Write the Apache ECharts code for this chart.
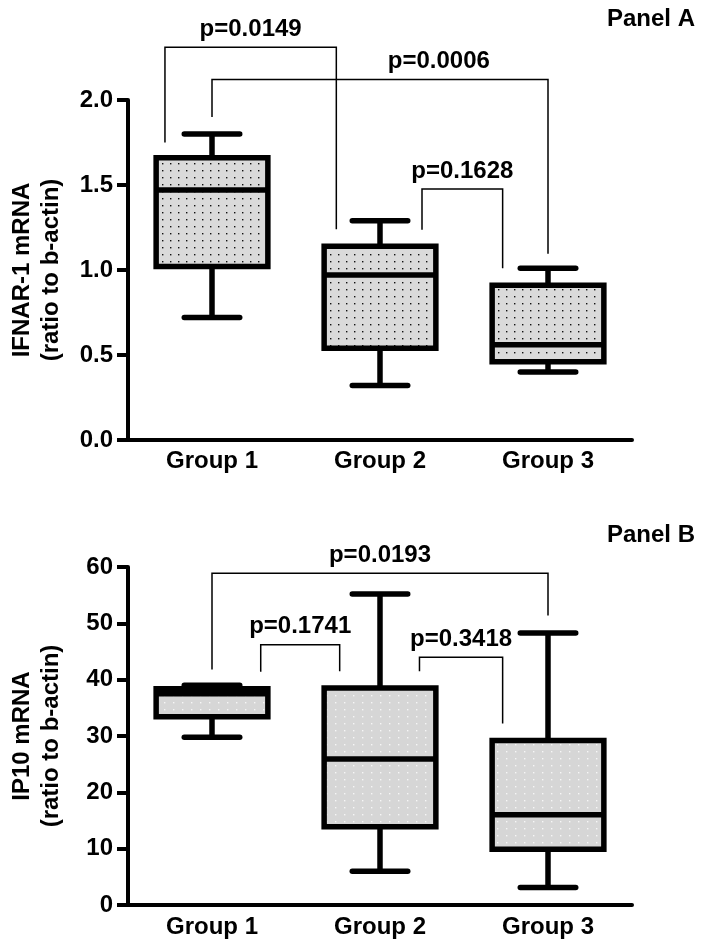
<!DOCTYPE html>
<html>
<head>
<meta charset="utf-8">
<script src="https://cdn.jsdelivr.net/npm/echarts@6/dist/echarts.min.js"></script>
<style>
html,body{margin:0;padding:0;background:#fff;}
#chart{width:701px;height:944px;}
</style>
</head>
<body>
<div id="chart"></div>
<script>
// ---- data ----
const categories = ['Group 1', 'Group 2', 'Group 3'];

// Panel A: IFNAR-1 mRNA
const aMin = [0.72, 0.32, 0.40];
const aQ1  = [1.02, 0.54, 0.46];
const aMed = [1.47, 0.97, 0.56];
const aQ3  = [1.66, 1.14, 0.91];
const aMax = [1.80, 1.29, 1.01];
const aTicks = ['0.0', '0.5', '1.0', '1.5', '2.0'];
const aPairs = [[0, 1], [0, 2], [1, 2]];
const aPLabels = ['p=0.0149', 'p=0.0006', 'p=0.1628'];

// Panel B: IP10 mRNA
const bMin = [29.8, 6.0, 3.1];
const bQ1  = [33.4, 13.9, 9.9];
const bMed = [37.5, 25.9, 16.0];
const bQ3  = [38.4, 38.5, 29.2];
const bMax = [39.0, 55.2, 48.3];
const bTicks = ['0', '10', '20', '30', '40', '50', '60'];
const bPairs = [[0, 2], [0, 1], [1, 2]];
const bPLabels = ['p=0.0193', 'p=0.1741', 'p=0.3418'];

// ---- annotation layout (bracket geometry, in axis units / band fractions) ----
const aBracketLayout = [
  {off: [-0.28, -0.26], top: 2.31, legs: [1.75, 1.24], labelShift: 0},
  {off: [0, 0], top: 2.12, legs: [1.90, 1.095], labelShift: 0.35},
  {off: [0.25, -0.27], top: 1.477, legs: [1.237, 1.011], labelShift: 0}
];
const bBracketLayout = [
  {off: [0, 0], top: 58.9, legs: [41.8, 51.4], labelShift: 0},
  {off: [0.29, -0.24], top: 46.2, legs: [41.4, 41.5], labelShift: 0},
  {off: [0.235, -0.27], top: 44.0, legs: [41.5, 32.2], labelShift: 0}
];

const FONT = '"Liberation Sans", Arial, sans-serif';

function makePattern(bg, dot, w, h, d) {
  const c = document.createElement('canvas');
  c.width = w; c.height = h;
  const ctx = c.getContext('2d');
  ctx.fillStyle = bg; ctx.fillRect(0, 0, w, h);
  ctx.fillStyle = dot; ctx.fillRect(2, 2, d, d);
  return {image: c, repeat: 'repeat'};
}
const patA = makePattern('#dadada', '#111', 8, 7, 1.4);
const patB = makePattern('#d6d6d6', '#f6f6f6', 9, 7, 1.4);

function boxData(mn, q1, md, q3, mx) {
  return categories.map((c, i) => [i, mn[i], q1[i], md[i], q3[i], mx[i]]);
}

function boxRenderer(pattern) {
  return function (params, api) {
    const c = api.value(0);
    const band = api.size([1, 0])[0];
    const cx = api.coord([c, api.value(1)])[0];
    const y = k => api.coord([c, api.value(k)])[1];
    const yMin = y(1), yQ1 = y(2), yMed = y(3), yQ3 = y(4), yMax = y(5);
    const bw = band * 0.665, cw = band * 0.33;
    const lw = 5.5;
    const st = {stroke: '#000', lineWidth: lw};
    const capSt = {stroke: '#000', lineWidth: lw, lineCap: 'round'};
    return {
      type: 'group',
      children: [
        {type: 'line', shape: {x1: cx, y1: yMin, x2: cx, y2: yQ1}, style: st},
        {type: 'line', shape: {x1: cx, y1: yQ3, x2: cx, y2: yMax}, style: st},
        {type: 'line', shape: {x1: cx - cw / 2, y1: yMin, x2: cx + cw / 2, y2: yMin}, style: capSt},
        {type: 'line', shape: {x1: cx - cw / 2, y1: yMax, x2: cx + cw / 2, y2: yMax}, style: capSt},
        {type: 'rect', shape: {x: cx - bw / 2, y: yQ3, width: bw, height: yQ1 - yQ3},
          style: {fill: pattern, stroke: '#000', lineWidth: lw, lineJoin: 'miter'}},
        {type: 'line', shape: {x1: cx - bw / 2, y1: yMed, x2: cx + bw / 2, y2: yMed}, style: st}
      ]
    };
  };
}

function bracketRenderer(layout, labels) {
  return function (params, api) {
    const k = api.value(2);
    const L = layout[k];
    const band = api.size([1, 0])[0];
    const x1 = api.coord([api.value(0), L.top])[0] + L.off[0] * band;
    const x2 = api.coord([api.value(1), L.top])[0] + L.off[1] * band;
    const yT = api.coord([api.value(0), L.top])[1];
    const yL = api.coord([api.value(0), L.legs[0]])[1];
    const yR = api.coord([api.value(1), L.legs[1]])[1];
    const st = {stroke: '#000', lineWidth: 1.5, fill: null};
    return {
      type: 'group',
      children: [
        {type: 'polyline', shape: {points: [[x1, yL], [x1, yT], [x2, yT], [x2, yR]]}, style: st},
        {type: 'text', style: {text: labels[k], x: (x1 + x2) / 2 + L.labelShift * band, y: yT - 18,
          align: 'center', verticalAlign: 'middle', font: 'bold 24px ' + FONT, fill: '#000'}}
      ]
    };
  };
}

function bracketData(pairs) {
  return pairs.map((p, k) => [p[0], p[1], k]);
}

function xAxisCfg(gi, margin) {
  return {
    type: 'category', gridIndex: gi, data: categories, boundaryGap: true,
    axisLine: {lineStyle: {color: '#000', width: 4}},
    axisTick: {show: false},
    axisLabel: {color: '#000', fontSize: 24, fontWeight: 'bold', fontFamily: FONT, margin: margin},
    splitLine: {show: false}
  };
}
function yAxisCfg(gi, max, interval, ticks, name) {
  return {
    type: 'value', gridIndex: gi, min: 0, max: max, interval: interval,
    name: name, nameLocation: 'middle', nameRotate: 90, nameGap: 62,
    nameTextStyle: {color: '#000', fontSize: 24, fontWeight: 'bold', fontFamily: FONT, lineHeight: 29},
    axisLine: {show: true, lineStyle: {color: '#000', width: 4}},
    axisTick: {show: true, length: 11, lineStyle: {color: '#000', width: 4}},
    axisLabel: {color: '#000', fontSize: 24, fontWeight: 'bold', fontFamily: FONT, margin: 15,
      formatter: v => ticks[Math.round(v / interval)]},
    splitLine: {show: false}
  };
}

const chart = echarts.init(document.getElementById('chart'), null, {renderer: 'canvas'});
chart.setOption({
  animation: false,
  backgroundColor: '#fff',
  textStyle: {fontFamily: FONT},
  title: [
    {text: 'Panel A', right: 1, top: 2, textStyle: {color: '#000', fontSize: 24, fontWeight: 'bold', fontFamily: FONT}},
    {text: 'Panel B', right: 1, top: 518, textStyle: {color: '#000', fontSize: 24, fontWeight: 'bold', fontFamily: FONT}}
  ],
  grid: [
    {left: 122, top: 100, width: 510, height: 340},
    {left: 122, top: 567, width: 510, height: 338}
  ],
  xAxis: [xAxisCfg(0, 9), xAxisCfg(1, 10)],
  yAxis: [
    yAxisCfg(0, 2, 0.5, aTicks, 'IFNAR-1 mRNA\n(ratio to b-actin)'),
    yAxisCfg(1, 60, 10, bTicks, 'IP10 mRNA\n(ratio to b-actin)')
  ],
  series: [
    {type: 'custom', xAxisIndex: 0, yAxisIndex: 0, clip: false, silent: true,
      renderItem: bracketRenderer(aBracketLayout, aPLabels), data: bracketData(aPairs), z: 1},
    {type: 'custom', xAxisIndex: 0, yAxisIndex: 0, clip: false, silent: true,
      renderItem: boxRenderer(patA), data: boxData(aMin, aQ1, aMed, aQ3, aMax), z: 2},
    {type: 'custom', xAxisIndex: 1, yAxisIndex: 1, clip: false, silent: true,
      renderItem: bracketRenderer(bBracketLayout, bPLabels), data: bracketData(bPairs), z: 1},
    {type: 'custom', xAxisIndex: 1, yAxisIndex: 1, clip: false, silent: true,
      renderItem: boxRenderer(patB), data: boxData(bMin, bQ1, bMed, bQ3, bMax), z: 2}
  ]
});
</script>
</body>
</html>
